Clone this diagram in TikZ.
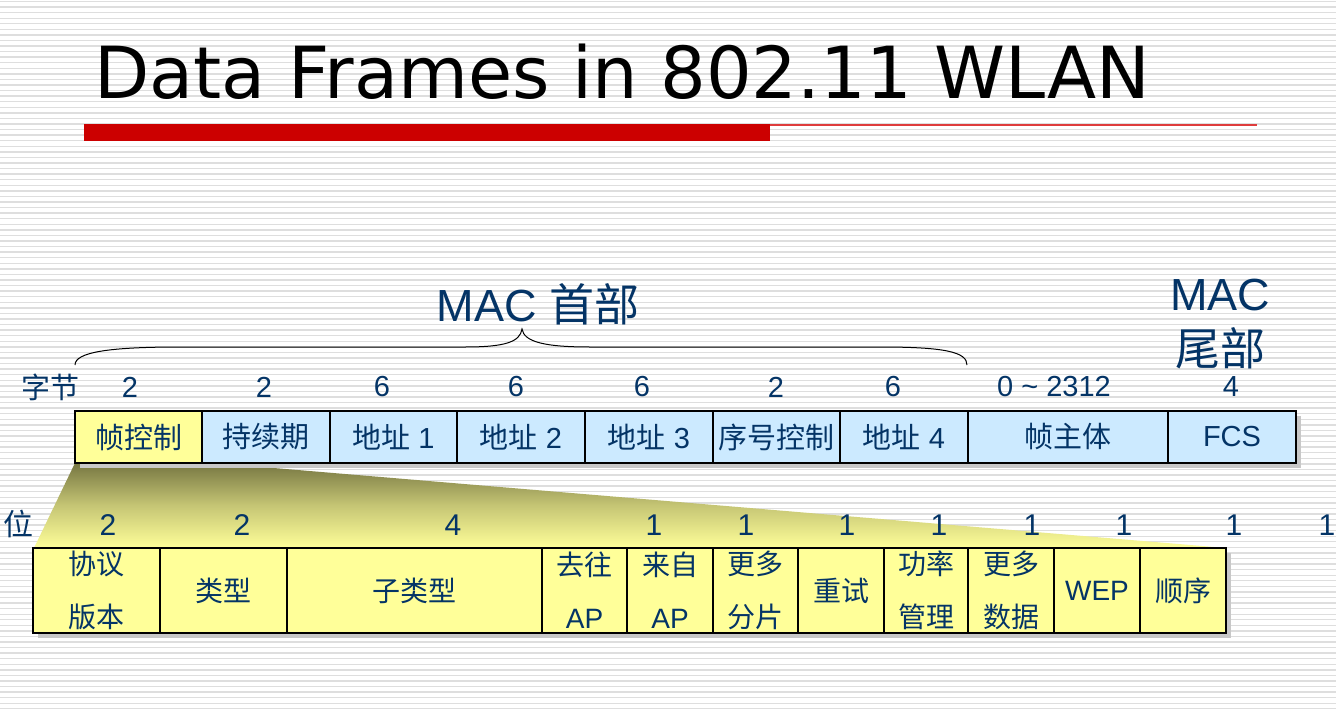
\documentclass[tikz,border=0pt]{standalone}
\usepackage{fontspec}
\setmainfont{Liberation Sans}
\newfontfamily\cjk{Noto Sans CJK SC}
\newfontfamily\titlefont{DejaVu Sans}
\newcommand{\zh}[1]{{\cjk #1}}
\definecolor{navy}{RGB}{4,52,102}
\definecolor{cellblue}{RGB}{204,234,255}
\definecolor{cellyellow}{RGB}{255,255,153}
\definecolor{funtop}{RGB}{118,118,66}
\definecolor{barred}{RGB}{204,0,0}
\definecolor{linered}{RGB}{222,60,60}
\definecolor{stripe}{RGB}{222,222,222}
\definecolor{shadowgray}{RGB}{200,200,200}
\begin{document}
\begin{tikzpicture}[x=1pt,y=-1pt,
  lbl/.style={text=navy,font=\fontsize{29}{32}\selectfont,inner sep=0},
  bitlbl/.style={text=navy,font=\fontsize{30}{34}\selectfont,inner sep=0},
  cell/.style={draw=black,line width=1.3pt,text=navy,inner sep=0,outer sep=0,
    anchor=north west,align=center},
  topcell/.style={cell,fill=cellblue,minimum height=52,font=\fontsize{29}{34}\selectfont},
  botcell/.style={cell,fill=cellyellow,minimum height=85,font=\fontsize{28}{53}\selectfont},
]
% page and striped background
\useasboundingbox (0,0) rectangle (1336,709);
\fill[white] (0,0) rectangle (1336,709);
\foreach \i in {0,...,127}
  \draw[stripe,line width=1.4pt] (0,\i*5.57+1.5) -- (1336,\i*5.57+1.5);

% title with its rule
\node[anchor=base west,inner sep=0,font=\titlefont\fontsize{71.8}{80}\selectfont] (title) at (94,98) {Data Frames in 802.11 WLAN};
\fill[barred] (84,124) rectangle (770,141);
\fill[linered] (770,124) rectangle (1257,126);

% header brace and captions
\coordinate (bl) at (75,365);
\coordinate (br) at (967,365);
\coordinate (btip) at (522,329);
\draw[line width=1pt] (bl) .. controls (75,352) and (110,347) .. (180,347) -- (465,347)
  .. controls (505,347) and (520,342) .. (btip)
  .. controls (524,342) and (545,347) .. (590,347) -- (880,347)
  .. controls (945,347) and (967,352) .. (br);
\node[text=navy,inner sep=0,font=\fontsize{45}{50}\selectfont] (machead) at (538,304) {MAC \zh{首部}};
\node[text=navy,inner sep=0,align=center,font=\fontsize{45}{55}\selectfont] (mactail) at (1220,324) {MAC\\\zh{尾部}};

% byte counts
\node[lbl] (bytes) at (50,387) {\zh{字节}};
\node[lbl] (n1) at (130,387) {2};
\node[lbl] (n2) at (264,387) {2};
\node[lbl] (n3) at (382,387) {6};
\node[lbl] (n4) at (516,387) {6};
\node[lbl] (n5) at (642,387) {6};
\node[lbl] (n6) at (776,387) {2};
\node[lbl] (n7) at (893,387) {6};
\node[lbl] (n8) at (1054,387) {0 \textasciitilde\ 2312};
\node[lbl] (n9) at (1231,387) {4};

% expansion of the frame control field
\shade[top color=funtop,bottom color=cellyellow,middle color=cellyellow!58!funtop]
  (75,463) -- (250,466) -- (1226,548) -- (34,548) -- cycle;

% drop shadows
\fill[shadowgray] (80,416) rectangle (1301,468);
\fill[shadowgray] (38,553) rectangle (1231,638);

% MAC frame fields
\node[topcell,minimum width=127] (f1) at (75,411) {\zh{帧控制}};
\node[topcell,minimum width=128] (f2) at (202,411) {\zh{持续期}};
\node[topcell,minimum width=127] (f3) at (330,411) {\zh{地址} 1};
\node[topcell,minimum width=128] (f4) at (457,411) {\zh{地址} 2};
\node[topcell,minimum width=128] (f5) at (585,411) {\zh{地址} 3};
\node[topcell,minimum width=127] (f6) at (713,411) {\zh{序号控制}};
\node[topcell,minimum width=128] (f7) at (840,411) {\zh{地址} 4};
\node[topcell,minimum width=200] (f8) at (968,411) {\zh{帧主体}};
\node[topcell,minimum width=128] (f9) at (1168,411) {FCS};
\node[topcell,minimum width=127,fill=cellyellow,line width=2.4pt] at (75,411) {\zh{帧控制}};

% bit counts
\node[bitlbl] (bits) at (18,524) {\zh{位}};
\node[bitlbl] (b1) at (108,525) {2};
\node[bitlbl] (b2) at (242,525) {2};
\node[bitlbl] (b3) at (453,525) {4};
\node[bitlbl] (b4) at (654,525) {1};
\node[bitlbl] (b5) at (746,525) {1};
\node[bitlbl] (b6) at (847,525) {1};
\node[bitlbl] (b7) at (939,525) {1};
\node[bitlbl] (b8) at (1032,525) {1};
\node[bitlbl] (b9) at (1124,525) {1};
\node[bitlbl] (b10) at (1234,525) {1};
\node[bitlbl] (b11) at (1327,525) {1};

% frame control subfields
\node[botcell,minimum width=127] (c1) at (33,548) {\zh{协议}\\\zh{版本}};
\node[botcell,minimum width=127] (c2) at (160,548) {\zh{类型}};
\node[botcell,minimum width=255] (c3) at (287,548) {\zh{子类型}};
\node[botcell,minimum width=85] (c4) at (542,548) {\zh{去往}\\AP};
\node[botcell,minimum width=86] (c5) at (627,548) {\zh{来自}\\AP};
\node[botcell,minimum width=85] (c6) at (713,548) {\zh{更多}\\\zh{分片}};
\node[botcell,minimum width=86] (c7) at (798,548) {\zh{重试}};
\node[botcell,minimum width=84] (c8) at (884,548) {\zh{功率}\\\zh{管理}};
\node[botcell,minimum width=86] (c9) at (968,548) {\zh{更多}\\\zh{数据}};
\node[botcell,minimum width=86] (c10) at (1054,548) {WEP};
\node[botcell,minimum width=86] (c11) at (1140,548) {\zh{顺序}};
\end{tikzpicture}
\end{document}
